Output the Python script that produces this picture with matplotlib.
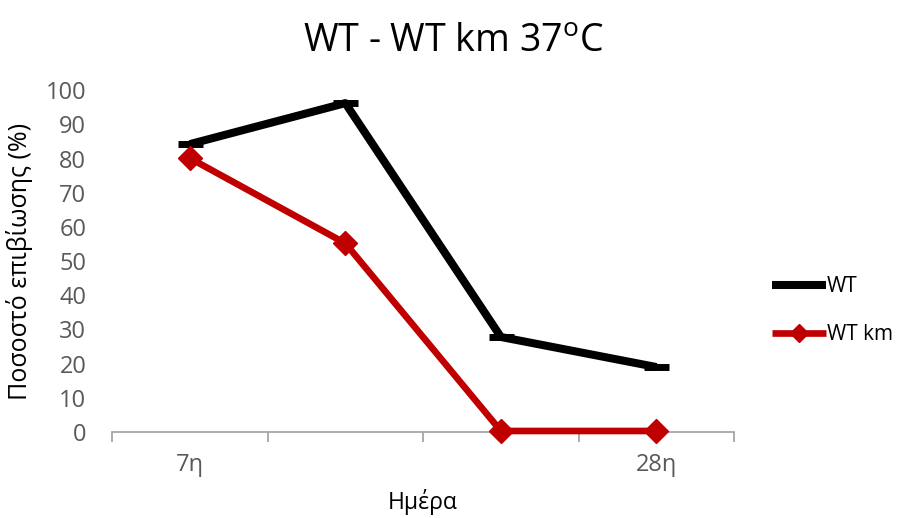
import matplotlib
matplotlib.use("Agg")
import matplotlib.pyplot as plt

plt.rcParams['font.family'] = ['Open Sans', 'DejaVu Sans']
plt.rcParams['mathtext.fontset'] = 'custom'
plt.rcParams['mathtext.rm'] = 'Open Sans'

days = ["7η", "14η", "21η", "28η"]
day_labels = ["7η", "", "", "28η"]
wt = [84.2, 96.2, 27.8, 19.0]
wt_km = [80.1, 55.2, 0.3, 0.3]

fig = plt.figure(figsize=(9.07, 5.18), dpi=100)
ax = fig.add_axes([0.1235, 0.166, 0.686, 0.66])

x = list(range(len(days)))
ax.plot(x, wt, color="black", lw=5.8, marker="_", ms=18, mew=5,
        solid_capstyle="butt", label="WT", zorder=3)
ax.plot(x, wt_km, color="#C00000", lw=4.8, marker="D", ms=12,
        solid_capstyle="butt", label="WT km", zorder=4, clip_on=False)

ax.set_xlim(-0.5, len(days) - 0.5)
ax.set_ylim(0, 100)
ax.set_yticks(range(0, 101, 10))
ax.set_xticks([i - 0.5 for i in range(len(days) + 1)], minor=False)
ax.set_xticklabels([])
ax.set_xticks(x, minor=True)
ax.set_xticklabels(day_labels, minor=True)

for s in ["top", "right", "left"]:
    ax.spines[s].set_visible(False)
ax.spines["bottom"].set_color("#A6A6A6")
ax.spines["bottom"].set_linewidth(1.3)
ax.tick_params(axis="x", which="major", direction="out", length=7,
               width=1.3, color="#A6A6A6")
ax.tick_params(axis="x", which="minor", length=0, pad=15,
               labelsize=17, labelcolor="#595959")
ax.tick_params(axis="y", length=0, pad=18.5, labelsize=17, labelcolor="#595959")

ax.set_xlabel("Ημέρα", fontsize=16.5, labelpad=9)
ax.set_ylabel("Ποσοστό επιβίωσης (%)", fontsize=18, labelpad=9)
fig.suptitle(r"WT - WT km 37$^\mathrm{o}$C", fontsize=27, x=0.4995, y=0.955)

fig.legend(loc="center left", bbox_to_anchor=(0.830, 0.40), frameon=False,
           fontsize=15, handlelength=2.6, handletextpad=0.05, labelspacing=1.3,
           markerscale=0.8)

fig.savefig("out.png", dpi=100)
